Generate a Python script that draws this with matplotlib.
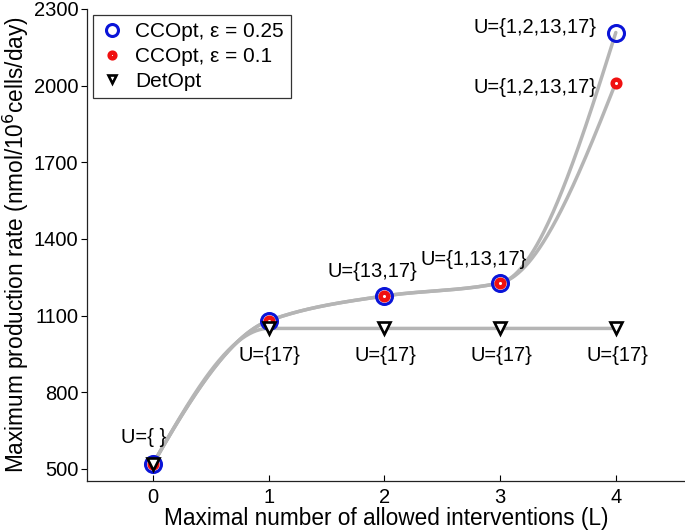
import numpy as np
import matplotlib
matplotlib.use('Agg')
import matplotlib.pyplot as plt

plt.rcParams['font.family'] = ['Liberation Sans', 'DejaVu Sans']

# data
L = [0, 1, 2, 3, 4]
cc_025 = [520, 1080, 1177, 1228, 2208]
cc_010 = [520, 1080, 1177, 1228, 2012]
det_opt = [520, 1050, 1050, 1050, 1050]

labels_cc = ['U={ }', 'U={13,17}', 'U={1,13,17}', 'U={1,2,13,17}', 'U={1,2,13,17}']
labels_det = ['U={17}', 'U={17}', 'U={17}', 'U={17}']

yticks = [500, 800, 1100, 1400, 1700, 2000, 2300]


def pchip(x, y, xs):
    # monotone cubic hermite (same idea as matlab's pchip)
    x = np.asarray(x, float)
    y = np.asarray(y, float)
    h = np.diff(x)
    delta = np.diff(y) / h
    n = len(x)
    d = np.zeros(n)
    for k in range(1, n - 1):
        if delta[k - 1] * delta[k] > 0:
            w1 = 2 * h[k] + h[k - 1]
            w2 = h[k] + 2 * h[k - 1]
            d[k] = (w1 + w2) / (w1 / delta[k - 1] + w2 / delta[k])

    def end_slope(h0, h1, d0, d1):
        s = ((2 * h0 + h1) * d0 - h0 * d1) / (h0 + h1)
        if np.sign(s) != np.sign(d0):
            s = 0.0
        elif np.sign(d0) != np.sign(d1) and abs(s) > abs(3 * d0):
            s = 3 * d0
        return s

    d[0] = end_slope(h[0], h[1], delta[0], delta[1])
    d[-1] = end_slope(h[-1], h[-2], delta[-1], delta[-2])

    idx = np.clip(np.searchsorted(x, xs) - 1, 0, n - 2)
    t = (xs - x[idx]) / h[idx]
    hk = h[idx]
    h00 = 2 * t**3 - 3 * t**2 + 1
    h10 = t**3 - 2 * t**2 + t
    h01 = -2 * t**3 + 3 * t**2
    h11 = t**3 - t**2
    return h00 * y[idx] + h10 * hk * d[idx] + h01 * y[idx + 1] + h11 * hk * d[idx + 1]


fig = plt.figure(figsize=(6.85, 5.32), dpi=100)
ax = fig.add_axes([0.1266, 0.0959, 0.8734, 0.8872])

xs = np.linspace(0, 4, 400)
gray = '#b5b5b5'
for series in (cc_025, cc_010, det_opt):
    ax.plot(xs, pchip(L, series, xs), color=gray, lw=2.5, zorder=1, solid_capstyle='round')

ax.plot(L, cc_025, 'o', ls='none', ms=11.5, mfc='none', mec='#0a14d8', mew=2.2,
        label='CCOpt, \u03b5 = 0.25', zorder=3)
ax.plot(L, cc_010, 'o', ls='none', ms=5.5, mfc='white', mec='#f01010', mew=3.2,
        label='CCOpt, \u03b5 = 0.1', zorder=4)
ax.plot(L, det_opt, 'v', ls='none', ms=8, mfc='white', mec='black', mew=1.9,
        label='DetOpt', zorder=5)

fs_ann = 14.5
fs_tick = 14.5
fs_lab = 16.3
fs_leg = 15

# labels above the CCOpt points
ax.text(-0.08, 625, labels_cc[0], ha='center', va='center', fontsize=fs_ann)
ax.text(1.90, 1271, labels_cc[1], ha='center', va='center', fontsize=fs_ann)
ax.text(2.77, 1318, labels_cc[2], ha='center', va='center', fontsize=fs_ann)
ax.text(3.30, 2226, labels_cc[3], ha='center', va='center', fontsize=fs_ann)
ax.text(3.30, 1991, labels_cc[4], ha='center', va='center', fontsize=fs_ann)
# labels below DetOpt
for xi, lab in zip(L[1:], labels_det):
    ax.text(xi + 0.01, 945, lab, ha='center', va='center', fontsize=fs_ann)

ax.set_xlim(-0.573, 4.598)
ax.set_ylim(453, 2300)
ax.set_xticks(L)
ax.set_yticks(yticks)
ax.tick_params(axis='y', direction='out', length=4, width=0.8, labelsize=fs_tick, pad=2)
ax.tick_params(axis='x', direction='in', length=4, width=0.8, labelsize=fs_tick, pad=5)
for s in ('top', 'right'):
    ax.spines[s].set_visible(False)
for s in ('left', 'bottom'):
    ax.spines[s].set_linewidth(0.9)
    ax.spines[s].set_color('#222222')

ax.set_xlabel('Maximal number of allowed interventions (L)', fontsize=fs_lab, labelpad=0)
ax.set_ylabel('Maximum production rate (nmol/10$^6$cells/day)', fontsize=fs_lab, labelpad=2)

leg = ax.legend(loc='upper left', bbox_to_anchor=(0.0105, 0.987), borderaxespad=0,
                fontsize=fs_leg, fancybox=False, edgecolor='#333333', framealpha=1,
                markerscale=0.75, handlelength=1.2, handletextpad=0.5,
                labelspacing=0.28, borderpad=0.33)
leg.get_frame().set_linewidth(0.9)

plt.savefig('out.png', dpi=100)
